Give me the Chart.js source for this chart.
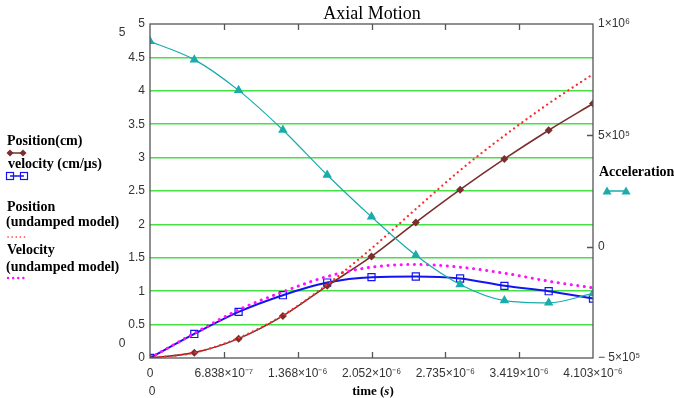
<!DOCTYPE html>
<html>
<head>
<meta charset="utf-8">
<script src="https://cdn.jsdelivr.net/npm/chart.js@4/dist/chart.umd.min.js"></script>
<style>
html,body{margin:0;padding:0;background:#fff;}
#c{display:block;}
</style>
</head>
<body>
<canvas id="c" width="674" height="398"></canvas>
<script>
// ---- data ----
const timeS = [0, 4.103e-7, 8.206e-7, 1.2309e-6, 1.6412e-6, 2.0515e-6, 2.4618e-6, 2.8721e-6, 3.2824e-6, 3.6927e-6, 4.103e-6];
const positionCm = [0, 0.08, 0.29, 0.63, 1.08, 1.52, 2.03, 2.52, 2.98, 3.41, 3.81];
const velocityCmUs = [0, 0.36, 0.69, 0.94, 1.13, 1.21, 1.22, 1.19, 1.08, 1.0, 0.89];
const positionUndamped = [0, 0.08, 0.30, 0.64, 1.10, 1.64, 2.23, 2.81, 3.33, 3.81, 4.25];
const velocityUndamped = [0, 0.37, 0.72, 0.99, 1.22, 1.36, 1.40, 1.36, 1.27, 1.15, 1.05];
const acceleration = [922000, 840000, 702000, 524000, 322000, 134000, -39000, -170000, -242000, -252000, -210000];

const xTicks = [0, 6.838e-7, 1.368e-6, 2.052e-6, 2.735e-6, 3.419e-6, 4.103e-6];
const xTickLabels = ['0', '6.838×10⁻⁷', '1.368×10⁻⁶', '2.052×10⁻⁶', '2.735×10⁻⁶', '3.419×10⁻⁶', '4.103×10⁻⁶'];
const y2Ticks = [-5e5, 0, 5e5, 1e6];
const y2TickLabels = ['− 5×10⁵', '0', '5×10⁵', '1×10⁶'];

const pts = arr => arr.map((v, i) => ({x: timeS[i], y: v}));

const C = {
  brown: '#7a2e2e', blue: '#1414f0', teal: '#1aabab', red: '#ff2a2a', magenta: '#ff10ff',
  grid: '#44e044', frame: '#555555', tick: '#333333'
};
const tickFont = {family: 'Liberation Sans', size: 12};

const decor = {
  id: 'decor',
  afterDraw(chart) {
    const ctx = chart.ctx, a = chart.chartArea;
    const sx = chart.scales.x, sy2 = chart.scales.y2;
    ctx.save();
    // frame
    ctx.strokeStyle = C.frame; ctx.lineWidth = 1.3;
    ctx.strokeRect(a.left, a.top, a.right - a.left, a.bottom - a.top);
    // inward ticks
    ctx.beginPath();
    xTicks.slice(1, -1).forEach(v => {
      const px = Math.round(sx.getPixelForValue(v)) + 0.5;
      ctx.moveTo(px, a.top); ctx.lineTo(px, a.top + 6);
      ctx.moveTo(px, a.bottom); ctx.lineTo(px, a.bottom - 6);
    });
    [0, 5e5].forEach(v => {
      const py = Math.round(sy2.getPixelForValue(v)) + 0.5;
      ctx.moveTo(a.right, py); ctx.lineTo(a.right - 6, py);
    });
    ctx.stroke();

    // title
    ctx.fillStyle = '#000';
    ctx.textBaseline = 'middle';
    ctx.textAlign = 'center';
    ctx.font = '18px "Liberation Serif"';
    ctx.fillText('Axial Motion', 372, 14);

    // stray labels
    ctx.font = '12px "Liberation Sans"';
    ctx.fillStyle = C.tick;
    ctx.fillText('5', 122, 33);
    ctx.fillText('0', 122, 344);
    ctx.fillText('0', 152, 392);

    // x-axis title
    ctx.fillStyle = '#000';
    ctx.textAlign = 'left';
    const b = 'bold 13px "Liberation Serif"', bi = 'italic bold 13px "Liberation Serif"';
    ctx.font = b; const w1 = ctx.measureText('time (').width;
    ctx.font = bi; const w2 = ctx.measureText('s').width;
    ctx.font = b; const w3 = ctx.measureText(')').width;
    let tx = 373 - (w1 + w2 + w3) / 2;
    ctx.font = b; ctx.fillText('time (', tx, 392);
    ctx.font = bi; ctx.fillText('s', tx + w1, 392);
    ctx.font = b; ctx.fillText(')', tx + w1 + w2, 392);

    // legend text
    ctx.font = 'bold 14px "Liberation Serif"';
    ctx.fillText('Position(cm)', 7, 141);
    ctx.fillText('velocity (cm/μs)', 8, 164);
    ctx.fillText('Position', 7, 207);
    ctx.fillText('(undamped model)', 6, 222);
    ctx.fillText('Velocity', 7, 250);
    ctx.fillText('(undamped model)', 6, 267);
    ctx.fillText('Acceleration', 599, 172);

    // legend glyphs
    const seg = (x1, x2, y, col, w, dash) => {
      ctx.save();
      ctx.strokeStyle = col; ctx.lineWidth = w;
      if (dash) { ctx.setLineDash(dash); ctx.lineCap = 'round'; }
      ctx.beginPath(); ctx.moveTo(x1, y); ctx.lineTo(x2, y); ctx.stroke();
      ctx.restore();
    };
    const diamond = (x, y) => {
      ctx.beginPath(); ctx.moveTo(x, y - 3.5); ctx.lineTo(x + 3.5, y); ctx.lineTo(x, y + 3.5); ctx.lineTo(x - 3.5, y); ctx.closePath();
      ctx.fillStyle = C.brown; ctx.fill();
    };
    const square = (x, y) => {
      ctx.strokeStyle = C.blue; ctx.lineWidth = 1.2; ctx.strokeRect(x - 3.5, y - 3.5, 7, 7);
    };
    const tri = (x, y) => {
      ctx.beginPath(); ctx.moveTo(x, y - 4.5); ctx.lineTo(x + 4.5, y + 3.5); ctx.lineTo(x - 4.5, y + 3.5); ctx.closePath();
      ctx.fillStyle = C.teal; ctx.fill();
    };
    seg(10, 23, 153, C.brown, 1.5); diamond(10, 153); diamond(23, 153);
    seg(10, 24, 176, C.blue, 1.5); square(10, 176); square(24, 176);
    seg(8, 28, 237, C.red, 1.6, [0.1, 4]);
    seg(8, 26, 278, C.magenta, 2.4, [0.1, 5]);
    seg(607, 626, 191, C.teal, 1.5); tri(607, 191); tri(626, 191);
    ctx.restore();
  }
};

new Chart(document.getElementById('c'), {
  type: 'line',
  data: {
    datasets: [
      {label: 'Acceleration', data: pts(acceleration), yAxisID: 'y2', borderColor: C.teal, backgroundColor: C.teal,
       borderWidth: 1.2, pointStyle: 'triangle', pointRadius: 5.5, pointBorderWidth: 0, cubicInterpolationMode: 'monotone'},
      {label: 'Position (undamped model)', data: pts(positionUndamped), yAxisID: 'y', borderColor: C.red,
       borderWidth: 2.2, borderDash: [0.1, 5], borderCapStyle: 'round', pointRadius: 0, cubicInterpolationMode: 'monotone'},
      {label: 'Velocity (undamped model)', data: pts(velocityUndamped), yAxisID: 'y', borderColor: C.magenta,
       borderWidth: 3, borderDash: [0.1, 6.5], borderCapStyle: 'round', pointRadius: 0, cubicInterpolationMode: 'monotone'},
      {label: 'Position(cm)', data: pts(positionCm), yAxisID: 'y', borderColor: C.brown, backgroundColor: C.brown,
       borderWidth: 1.6, pointStyle: 'rectRot', pointRadius: 4, pointBorderWidth: 0, cubicInterpolationMode: 'monotone'},
      {label: 'velocity (cm/μs)', data: pts(velocityCmUs), yAxisID: 'y', borderColor: C.blue, backgroundColor: 'rgba(255,255,255,0)',
       borderWidth: 2, pointStyle: 'rect', pointRadius: 5, pointBorderWidth: 1.2, cubicInterpolationMode: 'monotone'}
    ]
  },
  options: {
    responsive: false,
    animation: false,
    events: [],
    layout: {padding: {top: 24, left: 0, right: 0, bottom: 0}},
    plugins: {legend: {display: false}, title: {display: false}, tooltip: {enabled: false}},
    scales: {
      x: {
        type: 'linear', min: 0, max: 4.103e-6,
        afterBuildTicks: s => { s.ticks = xTicks.map(v => ({value: v})); },
        afterFit: s => { s.height = 40; },
        ticks: {callback: (v, i) => xTickLabels[i], autoSkip: false, maxRotation: 0, padding: 8, font: tickFont, color: C.tick},
        grid: {display: false, drawTicks: false},
        border: {display: false}
      },
      y: {
        position: 'left', min: 0, max: 5,
        afterFit: s => { s.width = 150; },
        ticks: {stepSize: 0.5, padding: 5, font: tickFont, color: C.tick, callback: v => String(v)},
        grid: {drawTicks: false, lineWidth: 1.5,
               color: c => (c.tick && c.tick.value > 0 && c.tick.value < 5) ? C.grid : 'rgba(0,0,0,0)'},
        border: {display: false}
      },
      y2: {
        position: 'right', min: -5e5, max: 1e6,
        afterBuildTicks: s => { s.ticks = y2Ticks.map(v => ({value: v})); },
        afterFit: s => { s.width = 81; },
        ticks: {callback: (v, i) => y2TickLabels[i], padding: 5, font: tickFont, color: C.tick},
        grid: {display: false, drawTicks: false},
        border: {display: false}
      }
    }
  },
  plugins: [decor]
});
</script>
</body>
</html>
